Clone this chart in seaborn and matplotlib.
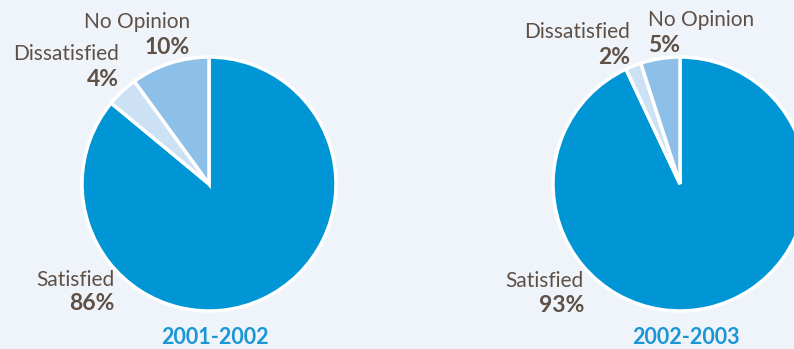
import matplotlib
matplotlib.use("Agg")
import matplotlib.pyplot as plt
import seaborn as sns

categories = ["Satisfied", "Dissatisfied", "No Opinion"]
years = ["2001-2002", "2002-2003"]
values_2001 = [86, 4, 10]
values_2002 = [93, 2, 5]
series = [values_2001, values_2002]

colors = ["#0096d6", "#cde1f4", "#8cc0e8"]
bg = "#eff4fb"
brown = "#5f5046"
blue = "#1a96d4"

sns.set_theme(style="white")
plt.rcParams["font.family"] = ["Lato", "DejaVu Sans"]

W, H = 794, 349
fig = plt.figure(figsize=(W / 100, H / 100), dpi=100, facecolor=bg)
ax = fig.add_axes([0, 0, 1, 1])
ax.set_facecolor(bg)

centers = [(209, H - 184), (680, H - 184)]
R = 127

for vals, c in zip(series, centers):
    ax.pie(vals, colors=colors, startangle=90, counterclock=False,
           center=c, radius=R, frame=True,
           wedgeprops=dict(edgecolor="white", linewidth=2.5))

ax.set_xlim(0, W)
ax.set_ylim(0, H)
ax.set_aspect("equal")
ax.axis("off")

# label layout: (x, y_name, y_pct, ha) per pie per category
layout = [
    {"Satisfied": (115, 280, 304, "right"),
     "Dissatisfied": (119, 54, 79, "right"),
     "No Opinion": (190, 22, 47, "right")},
    {"Satisfied": (584, 281, 305, "right"),
     "Dissatisfied": (630, 32, 58, "right"),
     "No Opinion": (648, 20, 45, "left")},
]

fs_name = 15
fs_pct = 16.5
for vals, lay in zip(series, layout):
    for cat, v in zip(categories, vals):
        x, yn, yp, ha = lay[cat]
        ax.text(x, H - yn, cat, ha=ha, va="center", color=brown,
                fontsize=fs_name)
        ax.text(x, H - yp, f"{v}%", ha=ha, va="center", color=brown,
                fontsize=fs_pct, fontweight="bold")

for yr, c in zip(years, centers):
    ax.text(c[0] + 6, H - 338, yr, ha="center", va="center", color=blue,
            fontsize=15.5, fontweight="bold")

fig.savefig("out.png", dpi=100, facecolor=bg)
